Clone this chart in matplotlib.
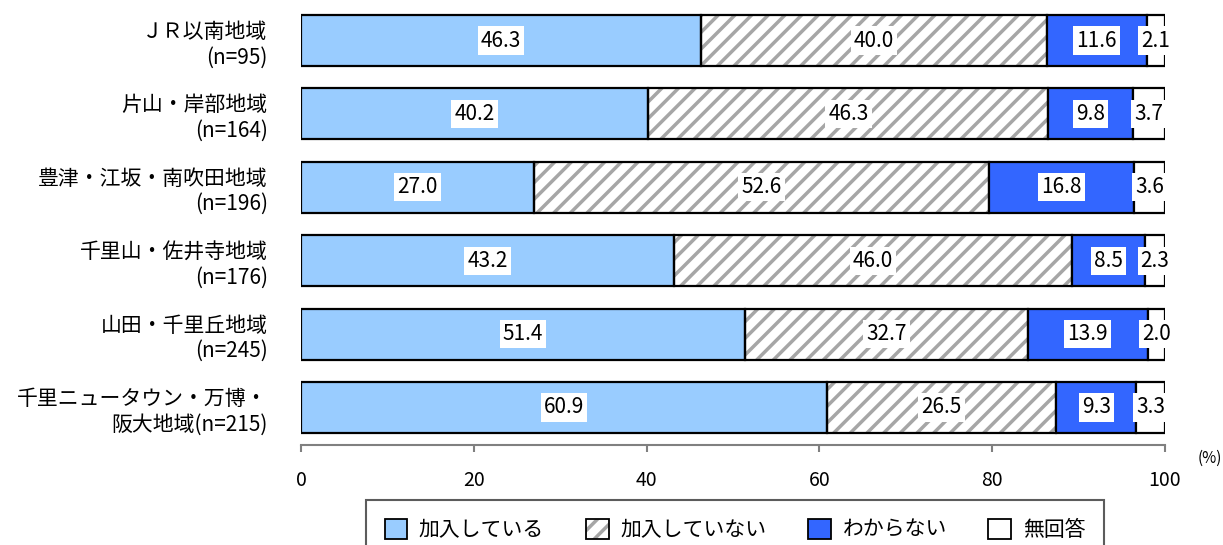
import matplotlib
matplotlib.use("Agg")
import matplotlib.pyplot as plt
from matplotlib.patches import Patch
from matplotlib.legend_handler import HandlerTuple

plt.rcParams['font.family'] = ['Noto Sans CJK JP', 'DejaVu Sans']
plt.rcParams['hatch.linewidth'] = 2.5
plt.rcParams['hatch.color'] = '#a6a6a6'

categories = [
    "ＪＲ以南地域\n(n=95)",
    "片山・岸部地域\n(n=164)",
    "豊津・江坂・南吹田地域\n(n=196)",
    "千里山・佐井寺地域\n(n=176)",
    "山田・千里丘地域\n(n=245)",
    "千里ニュータウン・万博・\n阪大地域(n=215)",
]
series_names = ["加入している", "加入していない", "わからない", "無回答"]
joined = [46.3, 40.2, 27.0, 43.2, 51.4, 60.9]
not_joined = [40.0, 46.3, 52.6, 46.0, 32.7, 26.5]
unknown = [11.6, 9.8, 16.8, 8.5, 13.9, 9.3]
no_answer = [2.1, 3.7, 3.6, 2.3, 2.0, 3.3]
xticks = [0, 20, 40, 60, 80, 100]

W, H = 1223, 545
fig = plt.figure(figsize=(W / 100, H / 100), dpi=100)
ax = fig.add_axes([301 / W, 1 - 445 / H, (1165 - 301) / W, (445 - 3) / H])

y = list(range(len(categories)))
bh = 0.695
series = [joined, not_joined, unknown, no_answer]
colors = ['#99ccff', 'white', '#3366ff', 'white']
left = [0.0] * len(categories)
for i, vals in enumerate(series):
    if i == 1:
        ax.barh(y, vals, left=left, height=bh, color='white',
                edgecolor='#a6a6a6', linewidth=0, hatch='//', zorder=2)
        ax.barh(y, vals, left=left, height=bh, fill=False,
                edgecolor='black', linewidth=1.6, zorder=3)
    else:
        ax.barh(y, vals, left=left, height=bh, color=colors[i],
                edgecolor='black', linewidth=1.6, zorder=3)
    for j, v in enumerate(vals):
        ax.text(left[j] + v / 2, y[j], f"{v:.1f}", ha='center', va='center',
                fontsize=15, zorder=5,
                bbox=dict(boxstyle='square,pad=0.15', facecolor='white',
                          edgecolor='none'))
    left = [l + v for l, v in zip(left, vals)]

ax.set_xlim(0, 100)
ax.set_ylim(len(categories) - 1 + 0.511, -0.511)
ax.set_xticks(xticks)
ax.set_xticklabels([str(t) for t in xticks], fontsize=14)
ax.set_yticks(y)
ax.set_yticklabels(categories, fontsize=15, linespacing=1.2)
ax.tick_params(axis='y', length=0, pad=24)
ax.tick_params(axis='x', length=5, width=1.5, color='#808080', pad=13)
for s in ['top', 'right', 'left']:
    ax.spines[s].set_visible(False)
ax.spines['bottom'].set_color('#808080')
ax.spines['bottom'].set_linewidth(1.5)

fig.text(1210 / W, 1 - 458 / H, "(%)", ha='center', va='center', fontsize=11)

h1 = Patch(facecolor='#99ccff', edgecolor='black', linewidth=1.3)
h2a = Patch(facecolor='white', edgecolor='#a6a6a6', linewidth=0, hatch='//')
h2b = Patch(fill=False, edgecolor='black', linewidth=1.3)
h3 = Patch(facecolor='#3366ff', edgecolor='black', linewidth=1.3)
h4 = Patch(facecolor='white', edgecolor='black', linewidth=1.3)
leg = fig.legend([h1, (h2a, h2b), h3, h4], series_names,
                 handler_map={tuple: HandlerTuple(ndivide=1)},
                 loc='upper center', bbox_to_anchor=(735 / W, 1 - 500 / H),
                 ncol=4, fontsize=15, frameon=True, fancybox=False,
                 handlelength=1.1, handleheight=1.1, handletextpad=0.55,
                 columnspacing=2.0, borderpad=0.9, borderaxespad=0)
leg.get_frame().set_edgecolor('#333333')
leg.get_frame().set_linewidth(1.5)

fig.savefig("out.png", dpi=100)
